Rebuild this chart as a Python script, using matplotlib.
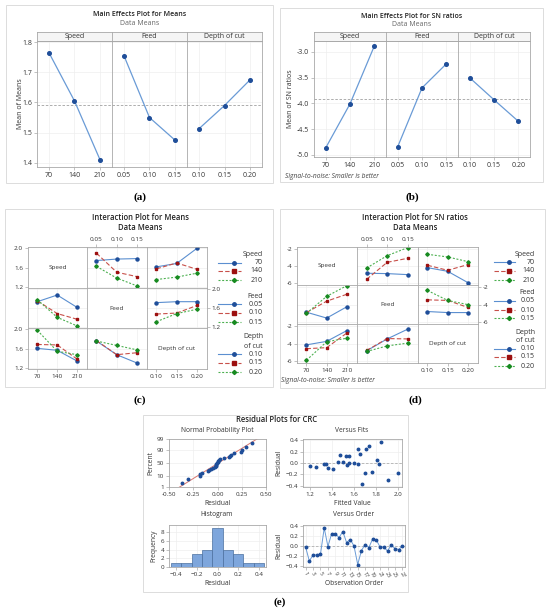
import statistics
import matplotlib
matplotlib.use('Agg')
import matplotlib.pyplot as plt
from matplotlib.patches import Rectangle

W, H = 550, 615
plt.rcParams['font.family'] = ['Open Sans', 'DejaVu Sans']

speed_levels = ['70', '140', '210']
feed_levels = ['0.05', '0.10', '0.15']
depth_levels = ['0.10', '0.15', '0.20']
factor_names = ['Speed', 'Feed', 'Depth of cut']

# main effects (a) - means
me_means_speed = [1.765, 1.605, 1.410]
me_means_feed = [1.755, 1.550, 1.475]
me_means_depth = [1.513, 1.590, 1.675]
me_means_grand = 1.593

# main effects (b) - SN ratios
me_sn_speed = [-4.87, -4.01, -2.88]
me_sn_feed = [-4.85, -3.70, -3.23]
me_sn_depth = [-3.50, -3.93, -4.35]
me_sn_grand = -3.92

# interaction (c) - means, each row = one level of the trace factor
im_speed_on_feed = [[1.75, 1.78, 1.79], [1.90, 1.51, 1.42], [1.63, 1.39, 1.23]]
im_speed_on_depth = [[1.62, 1.69, 2.00], [1.58, 1.70, 1.57], [1.36, 1.41, 1.49]]
im_feed_on_speed = [[1.74, 1.88, 1.62], [1.76, 1.49, 1.37], [1.78, 1.41, 1.23]]
im_feed_on_depth = [[1.72, 1.74, 1.74], [1.48, 1.50, 1.66], [1.32, 1.49, 1.58]]
im_depth_on_speed = [[1.61, 1.57, 1.35], [1.69, 1.68, 1.39], [1.98, 1.55, 1.48]]
im_depth_on_feed = [[1.76, 1.48, 1.31], [1.77, 1.48, 1.52], [1.76, 1.67, 1.58]]

# interaction (d) - SN ratios
isn_speed_on_feed = [[-4.82, -4.86, -4.98], [-5.53, -3.53, -3.06], [-4.20, -2.75, -1.80]]
isn_speed_on_depth = [[-4.16, -4.59, -5.92], [-3.88, -4.47, -3.80], [-2.59, -2.90, -3.45]]
isn_feed_on_speed = [[-4.85, -5.52, -4.22], [-4.89, -3.58, -2.79], [-4.97, -3.03, -1.80]]
isn_feed_on_depth = [[-4.77, -4.89, -4.89], [-3.43, -3.50, -4.30], [-2.36, -3.50, -3.98]]
isn_depth_on_speed = [[-4.12, -3.72, -2.48], [-4.56, -4.44, -2.76], [-5.88, -3.76, -3.36]]
isn_depth_on_feed = [[-4.80, -3.44, -2.32], [-4.76, -3.40, -3.44], [-4.88, -4.24, -3.92]]

# residual plots (e)
order_resid = [-0.02, -0.30, -0.18, -0.18, -0.16, 0.36, -0.01, 0.25, 0.24, 0.17,
               0.29, 0.07, 0.13, 0.00, -0.37, -0.09, 0.03, -0.03, 0.14, 0.12,
               -0.02, -0.02, -0.10, 0.02, -0.05, -0.07, 0.00]
fit_values = [1.20, 1.26, 1.33, 1.35, 1.37, 1.41, 1.46, 1.48, 1.50, 1.53, 1.54,
              1.56, 1.56, 1.60, 1.64, 1.64, 1.66, 1.68, 1.70, 1.71, 1.74, 1.77,
              1.81, 1.83, 1.85, 1.91, 2.00]
fit_resid = [-0.05, -0.07, -0.01, -0.01, -0.09, -0.10, 0.02, 0.14, 0.01, 0.13, -0.03,
             0.12, 0.00, 0.00, -0.01, 0.24, 0.16, -0.36, -0.18, 0.24, 0.29, -0.15,
             0.06, -0.02, 0.36, -0.30, -0.18]
hist_centers = [-0.4, -0.3, -0.2, -0.1, 0.0, 0.1, 0.2, 0.3, 0.4]
hist_counts = [1, 1, 3, 4, 9, 4, 3, 1, 1]

BLUE_L, BLUE_M = '#6a9bd6', '#1f4e99'
SPINE = '#a8a8a8'
GRID = '#eeeeee'
TXT = '#333333'
SERIES = [
    dict(color='#5b8fd0', ls='-', marker='o', mfc='#1f4e99', mec='#1f4e99', ms=2.2),
    dict(color='#c8504a', ls=(0, (4, 2)), marker='s', mfc='#9c1010', mec='#9c1010', ms=2.0),
    dict(color='#4cb050', ls=(0, (1.8, 1.5)), marker='D', mfc='#178a20', mec='#178a20', ms=1.8),
]

fig = plt.figure(figsize=(W / 100, H / 100), dpi=100)
ov = fig.add_axes([0, 0, 1, 1])
ov.set_xlim(0, W)
ov.set_ylim(H, 0)
ov.axis('off')


def fax(x0, y0, x1, y1):
    return fig.add_axes([x0 / W, 1 - y1 / H, (x1 - x0) / W, (y1 - y0) / H])


def style(ax, size=4.8):
    for s in ax.spines.values():
        s.set_color(SPINE)
        s.set_linewidth(0.6)
    ax.tick_params(length=2, width=0.5, color=SPINE, labelsize=size, pad=1.5,
                   labelcolor=TXT)


# panel frames
for x0, y0, x1, y1 in [(6, 5, 273, 183), (280, 8, 543, 182), (5, 209, 273, 387),
                       (280, 209, 545, 388), (143, 415, 408, 592)]:
    ov.add_patch(Rectangle((x0, y0), x1 - x0, y1 - y0, fc='white', ec='#dcdcdc', lw=0.7))

for x, y, s in [(140, 197, '(a)'), (412, 197, '(b)'), (140, 400, '(c)'),
                (415, 400, '(d)'), (280, 602, '(e)')]:
    ov.text(x, y, s, ha='center', va='center', fontsize=8, fontweight='bold',
            family='Liberation Serif')


def main_effects(xe, ys, yt, yb, series, ylim, yticks, ytl, ylabel, ylx, grand):
    lvls = [speed_levels, feed_levels, depth_levels]
    for j in range(3):
        ax = fax(xe[j], yt, xe[j + 1], yb)
        ax.plot(range(3), series[j], color=BLUE_L, lw=0.9, marker='o', ms=2.6,
                mfc=BLUE_M, mec=BLUE_M, zorder=3)
        ax.axhline(grand, color='#a0a0a0', lw=0.6, ls=(0, (3, 2)))
        ax.set_xlim(-0.47, 2.47)
        ax.set_ylim(ylim)
        ax.set_xticks(range(3))
        ax.set_xticklabels(lvls[j])
        ax.set_yticks(yticks)
        ax.set_yticklabels(ytl)
        ax.grid(color=GRID, lw=0.5)
        ax.set_axisbelow(True)
        style(ax, 5)
        if j > 0:
            ax.tick_params(axis='y', length=0, labelleft=False)
        st = fax(xe[j], ys, xe[j + 1], yt)
        st.set_xticks([])
        st.set_yticks([])
        st.set_facecolor('#f5f5f5')
        style(st)
        st.text(0.5, 0.45, factor_names[j], ha='center', va='center', fontsize=5,
                color=TXT, transform=st.transAxes)
    ov.text(ylx, (yt + yb) / 2, ylabel, rotation=90, ha='center', va='center',
            fontsize=5, color=TXT)


# (a)
ov.text(140, 15, 'Main Effects Plot for Means', ha='center', va='center', fontsize=5,
        color='#222222', fontweight='semibold')
ov.text(140, 23.5, 'Data Means', ha='center', va='center', fontsize=5, color='#666666')
main_effects([37, 112, 187, 262], 32, 41, 167,
             [me_means_speed, me_means_feed, me_means_depth], (1.386, 1.804),
             [1.4, 1.5, 1.6, 1.7, 1.8], ['1.4', '1.5', '1.6', '1.7', '1.8'],
             'Mean of Means', 20, me_means_grand)

# (b)
ov.text(412, 16, 'Main Effects Plot for SN ratios', ha='center', va='center', fontsize=5,
        color='#222222', fontweight='semibold')
ov.text(412, 24.5, 'Data Means', ha='center', va='center', fontsize=5, color='#666666')
main_effects([314, 386, 458, 530], 32, 41, 157,
             [me_sn_speed, me_sn_feed, me_sn_depth], (-5.04, -2.79),
             [-5.0, -4.5, -4.0, -3.5, -3.0], ['-5.0', '-4.5', '-4.0', '-3.5', '-3.0'],
             'Mean of SN ratios', 291, me_sn_grand)
ov.text(285, 176, 'Signal-to-noise: Smaller is better', ha='left', va='center',
        fontsize=4.8, style='italic', color='#444444')


def interaction(cols, rows, panels, ylim, yticks, ytl):
    lvls = [speed_levels, feed_levels, depth_levels]
    for r in range(3):
        for c in range(3):
            ax = fax(cols[c], rows[r], cols[c + 1], rows[r + 1])
            ax.set_xlim(-0.47, 2.5)
            ax.set_ylim(ylim)
            ax.set_xticks(range(3))
            ax.set_xticklabels(lvls[c])
            ax.set_yticks(yticks)
            ax.set_yticklabels(ytl)
            style(ax, 4.6)
            if r == c:
                ax.text(0.5, 0.5, factor_names[r], ha='center', va='center',
                        fontsize=4.6, color=TXT, transform=ax.transAxes)
            else:
                for k, vals in enumerate(panels[(r, c)]):
                    ax.plot(range(3), vals, lw=0.8, **SERIES[k])
                ax.grid(color=GRID, lw=0.5)
                ax.set_axisbelow(True)
            ax.tick_params(bottom=False, top=False, left=False, right=False,
                           labelbottom=False, labeltop=False, labelleft=False,
                           labelright=False)
            if r == 0 and c == 1:
                ax.tick_params(top=True, labeltop=True)
            if r == 2 and c != 1:
                ax.tick_params(bottom=True, labelbottom=True)
            if c == 0 and r != 1:
                ax.tick_params(left=True, labelleft=True)
            if r == 1 and c == 2:
                ax.tick_params(right=True, labelright=True)


def legend(xl0, xl1, xt, titles, entries):
    for y, s in titles:
        ov.text(xt, y, s, ha='right', va='center', fontsize=5, color=TXT)
    for y, s, k in entries:
        st = dict(SERIES[k])
        ov.plot([xl0, xl1], [y, y], color=st['color'], ls=st['ls'], lw=0.8)
        ov.plot([(xl0 + xl1) / 2 + 4], [y], ls='none', marker=st['marker'],
                mfc=st['mfc'], mec=st['mec'], ms=st['ms'] + 0.3)
        ov.text(xt, y, s, ha='right', va='center', fontsize=5, color=TXT)


# (c)
ov.text(140, 218, 'Interaction Plot for Means', ha='center', va='center', fontsize=5.5,
        color='#222222', fontweight='semibold')
ov.text(140, 228, 'Data Means', ha='center', va='center', fontsize=5.5,
        color='#222222', fontweight='semibold')
interaction([28, 87, 147, 207], [247, 288, 328, 369],
            {(0, 1): im_speed_on_feed, (0, 2): im_speed_on_depth,
             (1, 0): im_feed_on_speed, (1, 2): im_feed_on_depth,
             (2, 0): im_depth_on_speed, (2, 1): im_depth_on_feed},
            (1.186, 2.028), [1.2, 1.6, 2.0], ['1.2', '1.6', '2.0'])
legend(218, 241, 263, [(254, 'Speed'), (296, 'Feed'), (337, 'Depth'), (346, 'of cut')],
       [(263, speed_levels[0], 0), (271, speed_levels[1], 1), (280, speed_levels[2], 2),
        (304, feed_levels[0], 0), (313, feed_levels[1], 1), (322, feed_levels[2], 2),
        (354, depth_levels[0], 0), (363, depth_levels[1], 1), (372, depth_levels[2], 2)])

# (d)
ov.text(415, 218, 'Interaction Plot for SN ratios', ha='center', va='center', fontsize=5.5,
        color='#222222', fontweight='semibold')
ov.text(415, 228, 'Data Means', ha='center', va='center', fontsize=5.5,
        color='#222222', fontweight='semibold')
interaction([297, 357, 418, 478], [247, 285, 324, 363],
            {(0, 1): isn_speed_on_feed, (0, 2): isn_speed_on_depth,
             (1, 0): isn_feed_on_speed, (1, 2): isn_feed_on_depth,
             (2, 0): isn_depth_on_speed, (2, 1): isn_depth_on_feed},
            (-6.2, -1.73), [-6, -4, -2], ['-6', '-4', '-2'])
legend(494, 515, 535, [(254, 'Speed'), (293, 'Feed'), (332, 'Depth'), (340, 'of cut')],
       [(262, speed_levels[0], 0), (271, speed_levels[1], 1), (280, speed_levels[2], 2),
        (301, feed_levels[0], 0), (310, feed_levels[1], 1), (318, feed_levels[2], 2),
        (349, depth_levels[0], 0), (357, depth_levels[1], 1), (366, depth_levels[2], 2)])
ov.text(281, 381, 'Signal-to-noise: Smaller is better', ha='left', va='center',
        fontsize=4.8, style='italic', color='#444444')

# (e)
ov.text(277, 420, 'Residual Plots for CRC', ha='center', va='center', fontsize=5.5,
        color='#222222', fontweight='semibold')
nd = statistics.NormalDist()
sub_titles = [(217, 430, 'Normal Probability Plot'), (352, 430, 'Versus Fits'),
              (217, 514, 'Histogram'), (354, 514, 'Versus Order')]
for x, y, s in sub_titles:
    ov.text(x, y, s, ha='center', va='center', fontsize=4.8, color=TXT)

ax = fax(169, 439, 266, 487)
srt = sorted(order_resid)
n = len(srt)
zs = [nd.inv_cdf((i + 1 - 0.3) / (n + 0.4)) for i in range(n)]
mu = statistics.mean(order_resid)
sd = statistics.stdev(order_resid)
ax.plot([-0.5, 0.5], [(-0.5 - mu) / sd, (0.5 - mu) / sd], color='#d9776f', lw=0.7)
ax.plot(srt, zs, ls='none', marker='o', ms=1.8, mfc=BLUE_M, mec=BLUE_M)
pct = [1, 10, 50, 90, 99]
ax.set_yticks([nd.inv_cdf(p / 100) for p in pct])
ax.set_yticklabels([str(p) for p in pct])
ax.set_ylim(nd.inv_cdf(0.01), nd.inv_cdf(0.99))
ax.set_xlim(-0.5, 0.5)
ax.set_xticks([-0.5, -0.25, 0, 0.25, 0.5])
ax.set_xticklabels(['-0.50', '-0.25', '0.00', '0.25', '0.50'])
ax.grid(color=GRID, lw=0.5)
ax.set_axisbelow(True)
style(ax, 4.5)
ax.set_xlabel('Residual', fontsize=4.8, color=TXT, labelpad=2)
ax.set_ylabel('Percent', fontsize=4.8, color=TXT, labelpad=2)

ax = fax(303, 439, 402, 487)
ax.axhline(0, color='#b0b0b0', lw=0.6, ls=(0, (3, 2)))
ax.plot(fit_values, fit_resid, ls='none', marker='o', ms=1.8, mfc=BLUE_M, mec=BLUE_M)
ax.set_xlim(1.14, 2.04)
ax.set_ylim(-0.42, 0.42)
ax.set_xticks([1.2, 1.4, 1.6, 1.8, 2.0])
ax.set_yticks([-0.4, -0.2, 0.0, 0.2, 0.4])
ax.grid(color=GRID, lw=0.5)
ax.set_axisbelow(True)
style(ax, 4.5)
ax.set_xlabel('Fitted Value', fontsize=4.8, color=TXT, labelpad=2)
ax.set_ylabel('Residual', fontsize=4.8, color=TXT, labelpad=2)

ax = fax(169, 525, 266, 567)
ax.bar(hist_centers, hist_counts, width=0.1, color='#7ea6dc', edgecolor='#4a6f9e', lw=0.5)
ax.set_xlim(-0.47, 0.47)
ax.set_ylim(0, 9.6)
ax.set_xticks([-0.4, -0.2, 0.0, 0.2, 0.4])
ax.set_yticks([0, 2, 4, 6, 8])
ax.grid(color=GRID, lw=0.5)
ax.set_axisbelow(True)
style(ax, 4.5)
ax.set_xlabel('Residual', fontsize=4.8, color=TXT, labelpad=2)
ax.set_ylabel('Frequency', fontsize=4.8, color=TXT, labelpad=2)

ax = fax(303, 525, 405, 567)
obs = list(range(1, len(order_resid) + 1))
ax.axhline(0, color='#b0b0b0', lw=0.6, ls=(0, (3, 2)))
ax.plot(obs, order_resid, color='#6a9bd6', lw=0.7, marker='o', ms=1.8,
        mfc=BLUE_M, mec=BLUE_M)
ax.set_xlim(0.3, 27.7)
ax.set_ylim(-0.42, 0.42)
ax.set_xticks(obs[::2])
ax.set_xticklabels([str(o) for o in obs[::2]], rotation=-60)
ax.set_yticks([-0.4, -0.2, 0.0, 0.2, 0.4])
ax.grid(color=GRID, lw=0.5)
ax.set_axisbelow(True)
style(ax, 4.5)
ax.tick_params(axis='x', labelsize=3.8, pad=1)
ax.set_xlabel('Observation Order', fontsize=4.8, color=TXT, labelpad=1)
ax.set_ylabel('Residual', fontsize=4.8, color=TXT, labelpad=2)

fig.savefig('out.png', dpi=100, facecolor='white')
